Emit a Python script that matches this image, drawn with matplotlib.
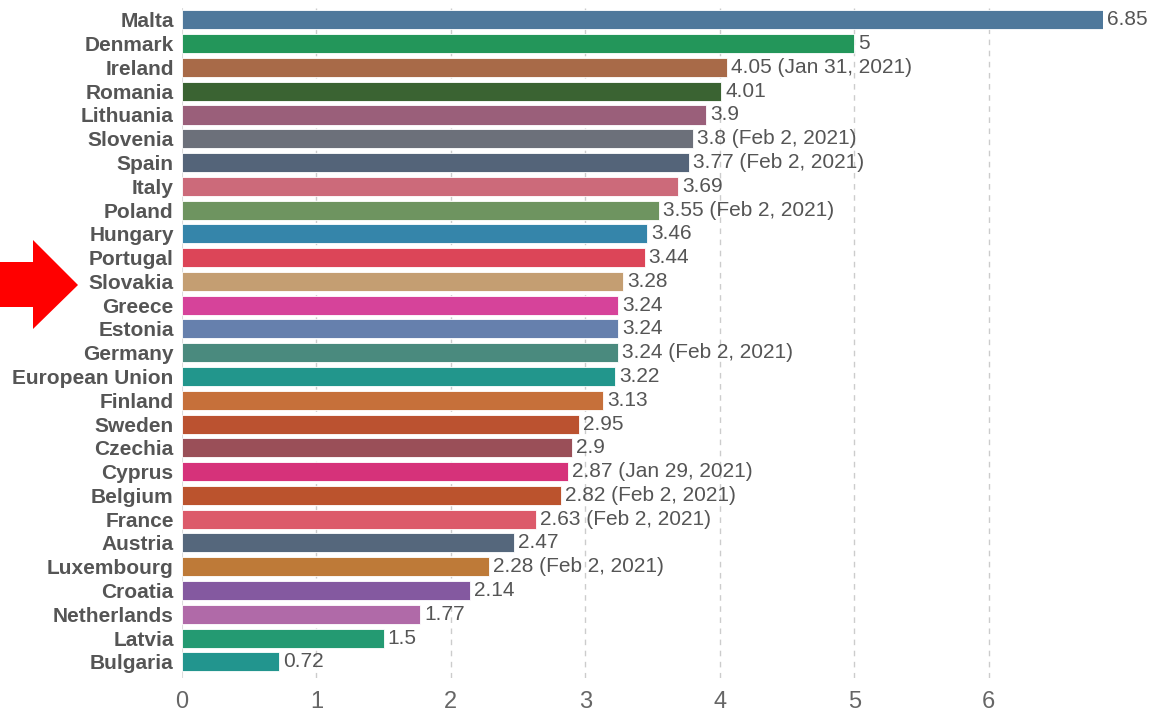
import matplotlib
matplotlib.use("Agg")
import matplotlib.pyplot as plt
from matplotlib.patches import Polygon

countries = ["Malta", "Denmark", "Ireland", "Romania", "Lithuania", "Slovenia", "Spain",
             "Italy", "Poland", "Hungary", "Portugal", "Slovakia", "Greece", "Estonia",
             "Germany", "European Union", "Finland", "Sweden", "Czechia", "Cyprus",
             "Belgium", "France", "Austria", "Luxembourg", "Croatia", "Netherlands",
             "Latvia", "Bulgaria"]
values = [6.85, 5, 4.05, 4.01, 3.9, 3.8, 3.77, 3.69, 3.55, 3.46, 3.44, 3.28, 3.24, 3.24,
          3.24, 3.22, 3.13, 2.95, 2.9, 2.87, 2.82, 2.63, 2.47, 2.28, 2.14, 1.77, 1.5, 0.72]
notes = ["", "", " (Jan 31, 2021)", "", "", " (Feb 2, 2021)", " (Feb 2, 2021)", "",
         " (Feb 2, 2021)", "", "", "", "", "", " (Feb 2, 2021)", "", "", "", "",
         " (Jan 29, 2021)", " (Feb 2, 2021)", " (Feb 2, 2021)", "", " (Feb 2, 2021)",
         "", "", "", ""]
colors = ["#4f789b", "#23965a", "#a86a48", "#3a6332", "#9a5f7a", "#6c707a", "#546479",
          "#cc6a7a", "#6e9460", "#3585aa", "#dc4558", "#c49e72", "#d6439a", "#6680ad",
          "#4a8a7e", "#22968c", "#c6703a", "#bb5230", "#9a4f58", "#d6327a", "#bb532d",
          "#dc5a6a", "#55677c", "#be7a38", "#8459a0", "#b06aa8", "#249a72", "#22958e"]
xticks = [0, 1, 2, 3, 4, 5, 6]

W, H = 1157, 713
fig = plt.figure(figsize=(W / 100, H / 100), dpi=100)
ax = fig.add_axes([182 / W, 1 - 678 / H, (1103 - 182) / W, (678 - 8) / H])

ypos = list(range(len(countries)))
ax.barh(ypos, values, height=0.8, color=colors, edgecolor="white", linewidth=0.6, zorder=2)
ax.set_ylim(len(countries) - 1 + 0.68, -0.5)
ax.set_xlim(0, 6.85)

for y, v, n in zip(ypos, values, notes):
    ax.annotate(f"{v:g}{n}", (v, y), xytext=(3, 0), textcoords="offset points",
                va="center", ha="left", fontsize=15, color="#555555",
                family="Liberation Sans", annotation_clip=False)

ax.set_yticks(ypos)
ax.set_yticklabels(countries, fontsize=15, fontweight="bold", color="#555555",
                   family="Liberation Sans")
ax.set_xticks(xticks)
ax.set_xticklabels([str(t) for t in xticks], fontsize=17, color="#666666",
                   family="Liberation Sans")
ax.tick_params(axis="both", length=0)
ax.tick_params(axis="y", pad=6)
ax.tick_params(axis="x", pad=9)

for t in xticks[1:]:
    ax.axvline(t, color="#cccccc", linestyle=(0, (4, 4)), linewidth=1, zorder=1)
ax.axvline(0, color="#dddddd", linewidth=1.5, zorder=1)
for s in ax.spines.values():
    s.set_visible(False)

arrow_px = [(0, 262), (33, 262), (33, 240), (78, 285), (33, 329), (33, 307), (0, 307)]
arrow = Polygon([(x / W, 1 - y / H) for x, y in arrow_px], closed=True,
                transform=fig.transFigure, facecolor="#ff0000", edgecolor="none")
fig.patches.append(arrow)

fig.savefig("out.png", dpi=100)
